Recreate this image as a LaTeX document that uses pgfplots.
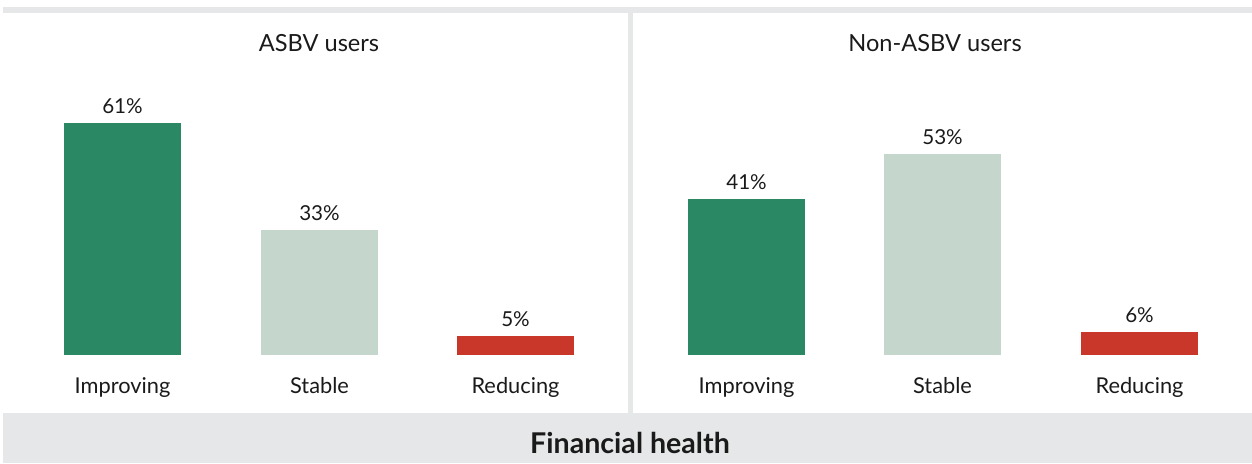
\documentclass[border=0pt]{standalone}
\usepackage{pgfplots}
\pgfplotsset{compat=1.18}
\usepackage{fontspec}
\setmainfont{Lato}
\definecolor{cgreen}{HTML}{2A8864}
\definecolor{clight}{HTML}{C5D7CD}
\definecolor{cred}{HTML}{C9372A}
\definecolor{cgray}{HTML}{E6E7E8}
\definecolor{ctext}{HTML}{1A1A1A}
\pgfplotsset{
  panel/.style={
    scale only axis, anchor=south west, height=171pt,
    ymin=0, ymax=90, clip=false,
    axis line style={draw=none}, tick style={draw=none},
    ytick=\empty,
    xticklabel style={anchor=base, yshift=-15pt, font=\fontsize{10.9}{13}\selectfont, text=ctext},
    ybar, bar width=58.5pt, bar shift=0pt,
    every axis plot/.append style={draw=none},
    nodes near coords={\pgfmathprintnumber[assume math mode=true]{\pgfplotspointmeta}\%},
    every node near coord/.append style={font=\fontsize{10.3}{12}\selectfont, text=ctext, yshift=1pt},
  }
}
\begin{document}
\begin{tikzpicture}
\begin{scope}[x=0.5pt,y=-0.5pt]
\useasboundingbox (0,0) rectangle (1252,463);
\fill[cgray] (3,7) rectangle (1252,13);
\fill[cgray] (628,13) rectangle (633,413);
\fill[cgray] (3,413) rectangle (1252,463);
\node[font=\bfseries\fontsize{14.3}{16}\selectfont, text=ctext] at (630,443) {Financial health};
\node[font=\fontsize{11.8}{14}\selectfont, text=ctext] at (319,43) {ASBV users};
\node[font=\fontsize{11.8}{14}\selectfont, text=ctext] at (935,43) {Non-ASBV users};
\end{scope}
\begin{axis}[panel, at={(0pt,-177.5pt)}, width=314pt, xmin=0, xmax=628,
  xtick={122.5,319.5,515.5}, xticklabels={Improving,Stable,Reducing}]
\addplot[fill=cgreen] coordinates {(122.5,61)};
\addplot[fill=clight] coordinates {(319.5,33)};
\addplot[fill=cred] coordinates {(515.5,5)};
\end{axis}
\begin{axis}[panel, at={(316.5pt,-177.5pt)}, width=309.5pt, xmin=633, xmax=1252,
  xtick={746.5,942.5,1139.5}, xticklabels={Improving,Stable,Reducing}]
\addplot[fill=cgreen] coordinates {(746.5,41)};
\addplot[fill=clight] coordinates {(942.5,53)};
\addplot[fill=cred] coordinates {(1139.5,6)};
\end{axis}
\end{tikzpicture}
\end{document}
